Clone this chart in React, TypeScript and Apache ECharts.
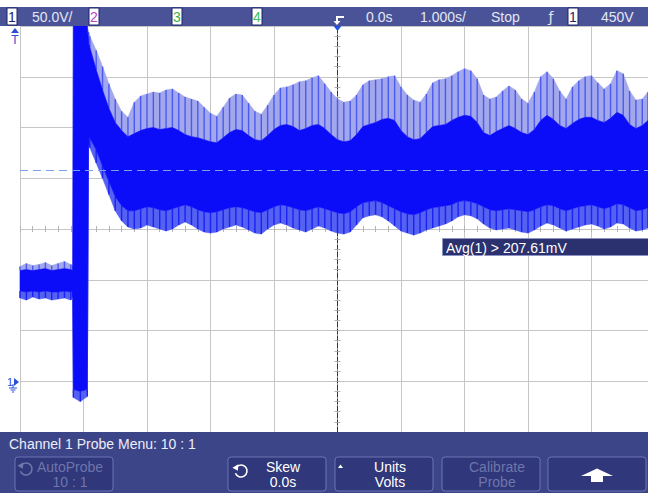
import React, { useEffect, useRef } from "react";
import * as echarts from "echarts";

const times = [
  -5.0, -4.9, -4.8, -4.7, -4.6, -4.5, -4.4, -4.3, -4.2, -4.17,
  -4.16, -4.05, -3.94,
  -3.92, -3.9, -3.8, -3.7, -3.6, -3.5, -3.4, -3.3, -3.2, -3.1,
  -3.0, -2.9, -2.8, -2.7, -2.6, -2.5, -2.4, -2.3, -2.2, -2.1,
  -2.0, -1.9, -1.8, -1.7, -1.6, -1.5, -1.4, -1.3, -1.2, -1.1,
  -1.0, -0.9, -0.8, -0.7, -0.6, -0.5, -0.4, -0.3, -0.2, -0.1,
  0.0, 0.1, 0.2, 0.3, 0.4, 0.5, 0.6, 0.7, 0.8, 0.9,
  1.0, 1.1, 1.2, 1.3, 1.4, 1.5, 1.6, 1.7, 1.8, 1.9,
  2.0, 2.1, 2.2, 2.3, 2.4, 2.5, 2.6, 2.7, 2.8, 2.9,
  3.0, 3.1, 3.2, 3.3, 3.4, 3.5, 3.6, 3.7, 3.8, 3.9,
  4.0, 4.1, 4.2, 4.3, 4.4, 4.5, 4.6, 4.7, 4.8, 4.89,
];
const spikeTop = [
  113, 116, 114, 115, 117, 114, 116, 118, 115, 114,
  350, 350, 350,
  344, 340, 326, 310, 293, 278, 266, 260, 275, 281,
  283, 285, 284, 287, 288, 284, 280, 278, 276, 270,
  264, 261, 270, 279, 283, 282, 274, 266, 263, 272,
  282, 289, 290, 292, 295, 296, 299, 301, 293, 285,
  278, 275, 276, 282, 292, 296, 297, 298, 300, 301,
  290, 282, 277, 275, 283, 294, 297, 298, 301, 305,
  308, 306, 298, 282, 278, 280, 286, 291, 287, 278,
  274, 285, 300, 305, 298, 286, 278, 290, 296, 300,
  301, 294, 288, 293, 306, 303, 286, 277, 278, 285,
];
const denseTop = [
  109, 110, 109, 110, 111, 109, 110, 111, 110, 109,
  350, 350, 350,
  333, 329, 307, 287, 269, 255, 247, 241, 244, 247,
  249, 250, 248, 249, 250, 247, 243, 241, 240, 238,
  236, 235, 240, 245, 248, 247, 242, 238, 237, 242,
  248, 252, 253, 251, 247, 249, 252, 253, 249, 243,
  238, 236, 237, 243, 251, 253, 255, 258, 259, 257,
  247, 241, 238, 239, 245, 251, 252, 253, 257, 260,
  262, 261, 255, 245, 242, 246, 249, 252, 249, 245,
  243, 248, 257, 262, 258, 252, 249, 254, 258, 260,
  260, 257, 255, 259, 265, 262, 253, 249, 252, 257,
];
const denseBottom = [
  89, 88, 89, 88, 89, 88, 88, 89, 88, 89,
  -8, -10, -8,
  241, 240, 228, 212, 197, 182, 173, 168, 168, 170,
  172, 171, 169, 168, 170, 172, 174, 172, 169, 167,
  166, 167, 169, 171, 172, 171, 169, 167, 166, 169,
  172, 174, 173, 171, 169, 168, 170, 172, 170, 168,
  166, 165, 167, 172, 176, 177, 178, 176, 173, 170,
  167, 165, 164, 166, 169, 171, 172, 173, 174, 177,
  178, 177, 175, 172, 169, 168, 169, 170, 169, 168,
  167, 169, 172, 174, 173, 170, 168, 170, 172, 173,
  174, 172, 170, 172, 175, 174, 171, 168, 169, 171,
];
const spikeBottom = [
  82, 80, 83, 81, 82, 80, 81, 82, 80, 83,
  -16, -20, -15,
  232, 230, 215, 200, 184, 168, 158, 152, 150, 151,
  154, 152, 150, 148, 150, 154, 157, 154, 150, 147,
  146, 147, 150, 152, 154, 152, 149, 146, 145, 150,
  154, 156, 154, 151, 149, 147, 150, 153, 151, 148,
  146, 145, 147, 154, 161, 163, 164, 162, 158, 153,
  148, 146, 144, 146, 149, 151, 153, 155, 158, 162,
  164, 163, 160, 155, 151, 149, 150, 151, 149, 147,
  146, 149, 153, 156, 154, 151, 148, 150, 152, 154,
  155, 153, 150, 152, 156, 155, 151, 148, 149, 151,
];
const avgLevel = 207.61;

const xMin = -5;
const xMax = 4.89;
const xInterval = 1;
const yMin = -50;
const yMax = 350;
const yInterval = 50;

const statusTexts = ["50.0V/", "0.0s", "1.000s/", "Stop", "450V"];
const menuTitle = "Channel 1 Probe Menu: 10 : 1";
const softkeys = [
  ["AutoProbe", "10 : 1"],
  ["Skew", "0.0s"],
  ["Units", "Volts"],
  ["Calibrate", "Probe"],
];

const FONT = '"Liberation Sans", Arial, sans-serif';

function bandSeries(lo: number[], hi: number[], fill: string, z: number) {
  return {
    type: "custom",
    z,
    silent: true,
    data: times.map((t, i) => [t, lo[i], hi[i]]),
    encode: { x: 0, y: [1, 2] },
    renderItem: (params: any, api: any) => {
      if (params.dataIndex !== 0) return null;
      const pts: number[][] = [];
      for (let i = 0; i < times.length; i++) pts.push(api.coord([times[i], hi[i]]));
      for (let i = times.length - 1; i >= 0; i--) pts.push(api.coord([times[i], lo[i]]));
      return {
        type: "polygon",
        shape: { points: pts },
        style: { fill, stroke: fill, lineWidth: 0.6 },
      };
    },
  };
}

function combSeries(lo: number[], hi: number[], stroke: string, width: number, z: number) {
  return {
    type: "custom",
    z,
    silent: true,
    data: times.map((t, i) => [t, lo[i], hi[i]]),
    encode: { x: 0, y: [1, 2] },
    renderItem: (params: any, api: any) => {
      const t = api.value(0);
      const p1 = api.coord([t, api.value(1)]);
      const p2 = api.coord([t, api.value(2)]);
      return {
        type: "line",
        shape: { x1: p1[0], y1: p1[1], x2: p2[0], y2: p2[1] },
        style: { stroke, lineWidth: width },
      };
    },
  };
}

function txt(x: number, y: number, text: string, fill: string, size = 14, align = "left", family = FONT) {
  return {
    type: "text",
    x,
    y,
    z: 100,
    silent: true,
    style: { text, fill, font: `${size}px ${family}`, align, verticalAlign: "middle" },
  };
}

function chBox(x: number, digit: string, color: string) {
  return [
    { type: "rect", z: 100, shape: { x, y: 8, width: 10, height: 17 }, style: { fill: "#ffffff", stroke: "#1d2566", lineWidth: 1 } },
    txt(x + 5, 17, digit, color, 14, "center"),
  ];
}

function softkey(x: number, lines: string[], enabled: boolean) {
  const col = enabled ? "#ffffff" : "#6e76ab";
  return [
    { type: "rect", z: 100, shape: { x, y: 457, width: 98, height: 34, r: 3 }, style: { fill: "#30377a", stroke: "#6c74b3", lineWidth: 1 } },
    txt(x + 55, 467, lines[0], col, 14, "center"),
    txt(x + 55, 482, lines[1], col, 14, "center"),
  ];
}

function rotIcon(cx: number, cy: number, color: string) {
  const a0 = Math.PI * 1.22;
  const ax = cx + 6 * Math.cos(a0);
  const ay = cy + 6 * Math.sin(a0);
  return [
    { type: "arc", z: 101, shape: { cx, cy, r: 6, startAngle: a0, endAngle: Math.PI * 0.88 }, style: { stroke: color, lineWidth: 1.6, fill: "none" } },
    { type: "polygon", z: 101, shape: { points: [[ax - 4, ay + 0.5], [ax + 2, ay - 3], [ax + 1.5, ay + 3.5]] }, style: { fill: color } },
  ];
}

const option: any = {
  animation: false,
  backgroundColor: "#ffffff",
  grid: { left: 20, right: 0, top: 26, bottom: 61 },
  xAxis: [
    {
      type: "value", min: xMin, max: xMax, interval: xInterval,
      axisLine: { show: false }, axisTick: { show: false }, axisLabel: { show: false },
      splitLine: { show: true, lineStyle: { color: "#c6c6c6", width: 1 } },
    },
    {
      type: "value", min: xMin, max: xMax, interval: xInterval, position: "bottom", offset: -203,
      axisLine: { show: false }, axisLabel: { show: false }, splitLine: { show: false },
      axisTick: { show: true, inside: true, length: 3, lineStyle: { color: "#b4b4b4" } },
      minorTick: { show: true, splitNumber: 5, length: 3, lineStyle: { color: "#b4b4b4" } },
    },
    {
      type: "value", min: xMin, max: xMax, interval: xInterval, position: "bottom", offset: -203,
      axisLine: { show: false }, axisLabel: { show: false }, splitLine: { show: false },
      axisTick: { show: true, inside: false, length: 3, lineStyle: { color: "#b4b4b4" } },
      minorTick: { show: true, splitNumber: 5, length: 3, lineStyle: { color: "#b4b4b4" } },
    },
  ],
  yAxis: [
    {
      type: "value", min: yMin, max: yMax, interval: yInterval,
      axisLine: { show: true, lineStyle: { color: "#26307a", type: [5, 2], width: 1 } },
      axisTick: { show: false }, axisLabel: { show: false },
      splitLine: { show: true, lineStyle: { color: "#c6c6c6", width: 1 } },
    },
    {
      type: "value", min: yMin, max: yMax, interval: yInterval, position: "left", offset: -317.5,
      axisLine: { show: false }, axisLabel: { show: false }, splitLine: { show: false },
      axisTick: { show: true, inside: true, length: 3, lineStyle: { color: "#b4b4b4" } },
      minorTick: { show: true, splitNumber: 5, length: 3, lineStyle: { color: "#b4b4b4" } },
    },
    {
      type: "value", min: yMin, max: yMax, interval: yInterval, position: "left", offset: -317.5,
      axisLine: { show: false }, axisLabel: { show: false }, splitLine: { show: false },
      axisTick: { show: true, inside: false, length: 3, lineStyle: { color: "#b4b4b4" } },
      minorTick: { show: true, splitNumber: 5, length: 3, lineStyle: { color: "#b4b4b4" } },
    },
  ],
  series: [
    bandSeries(denseTop, spikeTop, "#a3a7ec", 3),
    combSeries(denseTop, spikeTop, "#4a5af0", 1.4, 4),
    bandSeries(spikeBottom, denseBottom, "#5561f1", 3),
    combSeries(spikeBottom, denseBottom, "#1a22f6", 1.4, 4),
    {
      ...bandSeries(denseBottom, denseTop, "#0b0cf8", 5),
      markLine: {
        silent: true,
        symbol: "none",
        z: 10,
        label: { show: false },
        lineStyle: { type: [8, 5], color: "#78a2e8", width: 1 },
        data: [{ yAxis: avgLevel }],
      },
    },
  ],
  graphic: [
    // status bar
    { type: "rect", z: 99, shape: { x: 0, y: 7, width: 648, height: 19 }, style: { fill: "#4a5397" } },
    ...chBox(7, "1", "#1d2566"),
    txt(32, 17, statusTexts[0], "#e4e6f4", 14),
    ...chBox(89, "2", "#c040c8"),
    ...chBox(172, "3", "#3cb043"),
    ...chBox(252, "4", "#3cc060"),
    { type: "polyline", z: 101, shape: { points: [[344, 17], [337, 17], [337, 21]] }, style: { stroke: "#ffffff", lineWidth: 2, fill: "none" } },
    { type: "polygon", z: 101, shape: { points: [[333.5, 21], [340.5, 21], [337, 25]] }, style: { fill: "#ffffff" } },
    txt(366, 17, statusTexts[1], "#e4e6f4", 14),
    txt(420, 17, statusTexts[2], "#e4e6f4", 14),
    txt(491, 17, statusTexts[3], "#e4e6f4", 14),
    txt(551, 17, "ƒ", "#e4e6f4", 14, "center", '"DejaVu Sans", sans-serif'),
    ...chBox(568, "1", "#1d2566"),
    txt(601, 17, statusTexts[4], "#e4e6f4", 14),
    // trigger position marker
    { type: "polygon", z: 101, shape: { points: [[333.5, 26], [341.5, 26], [337.5, 31]] }, style: { fill: "#1f55e0" } },
    // trigger level marker (above screen)
    { type: "polygon", z: 101, shape: { points: [[11, 33], [15, 28], [19, 33]] }, style: { fill: "#2b4fd6" } },
    txt(15, 40, "T", "#2b4fd6", 12, "center"),
    // ground marker channel 1
    txt(10, 382, "1", "#2b4fd6", 11, "center"),
    { type: "polygon", z: 101, shape: { points: [[14, 378], [19, 382], [14, 386]] }, style: { fill: "#2b4fd6" } },
    { type: "polyline", z: 101, shape: { points: [[13, 384], [13, 388]] }, style: { stroke: "#2b4fd6", lineWidth: 1 } },
    { type: "line", z: 101, shape: { x1: 9, y1: 388, x2: 17, y2: 388 }, style: { stroke: "#2b4fd6", lineWidth: 1 } },
    { type: "line", z: 101, shape: { x1: 10.5, y1: 390, x2: 15.5, y2: 390 }, style: { stroke: "#2b4fd6", lineWidth: 1 } },
    { type: "line", z: 101, shape: { x1: 12, y1: 392, x2: 14, y2: 392 }, style: { stroke: "#2b4fd6", lineWidth: 1 } },
    // measurement readout
    { type: "rect", z: 100, shape: { x: 442.5, y: 238.5, width: 210, height: 17 }, style: { fill: "#2a316e", stroke: "#8d93c4", lineWidth: 1 } },
    txt(446, 247.5, `Avg(1) > ${avgLevel.toFixed(2)}mV`, "#ffffff", 14),
    // softkey menu
    { type: "rect", z: 99, shape: { x: 0, y: 432, width: 648, height: 61 }, style: { fill: "#3d4589" } },
    txt(9, 444, menuTitle, "#eceef8", 14),
    ...softkey(15, softkeys[0], false),
    ...rotIcon(26, 469, "#6e76ab"),
    ...softkey(228, softkeys[1], true),
    ...rotIcon(241, 471, "#ffffff"),
    ...softkey(335, softkeys[2], true),
    { type: "polygon", z: 101, shape: { points: [[338, 468], [343, 468], [340.5, 464.5]] }, style: { fill: "#ffffff" } },
    ...softkey(442, softkeys[3], false),
    { type: "rect", z: 100, shape: { x: 548, y: 457, width: 98, height: 34, r: 3 }, style: { fill: "#30377a", stroke: "#6c74b3", lineWidth: 1 } },
    { type: "polygon", z: 101, shape: { points: [[597, 468.5], [581, 476], [613, 476]] }, style: { fill: "#ffffff" } },
    { type: "rect", z: 101, shape: { x: 591, y: 475.5, width: 12, height: 6.5 }, style: { fill: "#ffffff" } },
  ],
};

export default function App() {
  const ref = useRef<HTMLDivElement>(null);
  useEffect(() => {
    const chart = echarts.init(ref.current as HTMLDivElement, null, { renderer: "svg" });
    chart.setOption(option);
    return () => chart.dispose();
  }, []);
  return (
    <div
      ref={ref}
      style={{ position: "fixed", left: 0, top: 0, width: 648, height: 493, background: "#ffffff" }}
    />
  );
}
